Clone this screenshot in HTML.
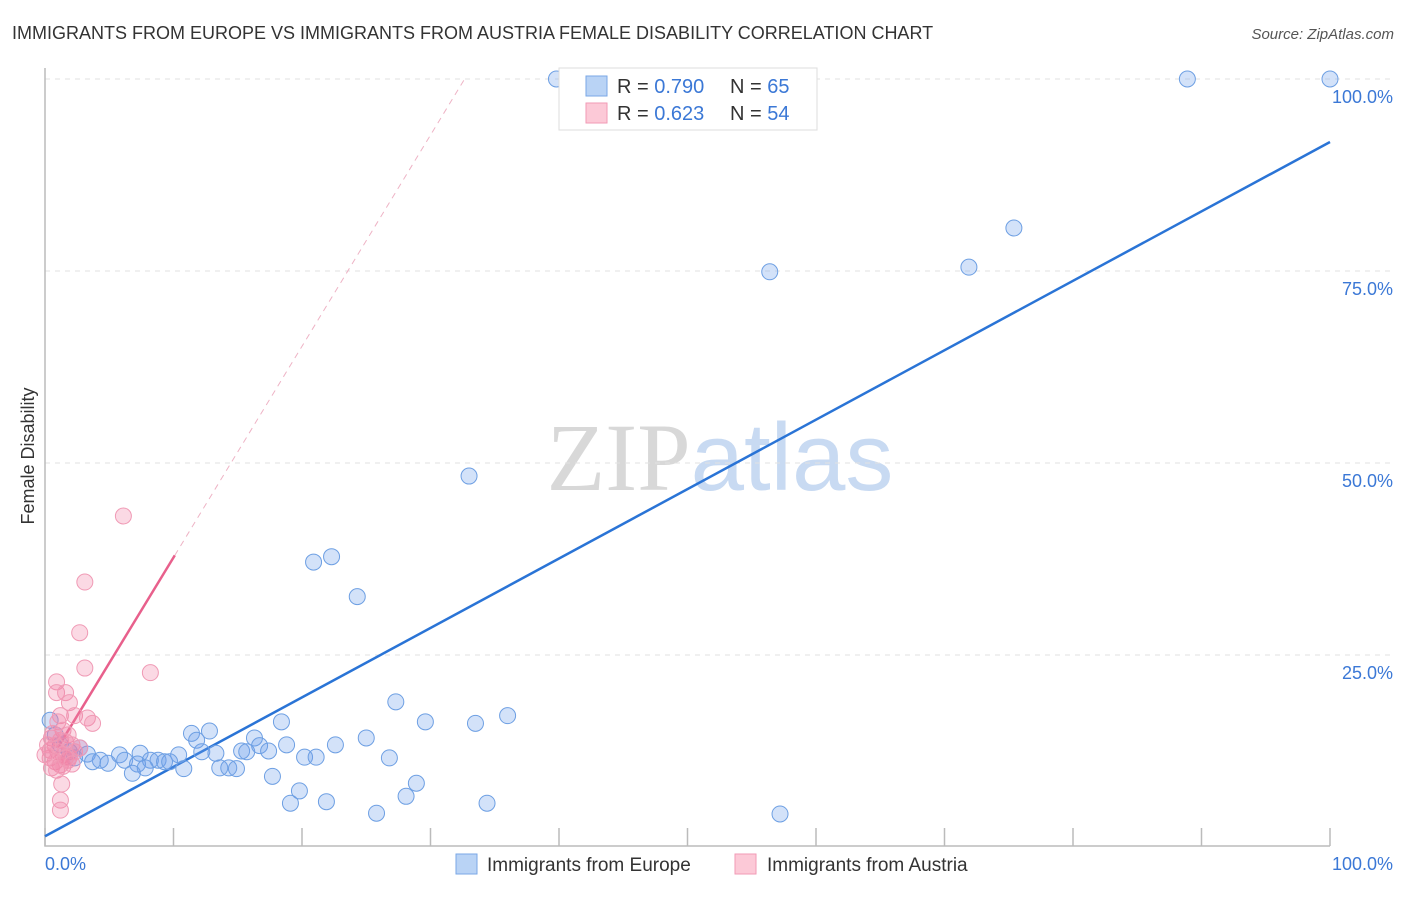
<!DOCTYPE html>
<html><head><meta charset="utf-8"><style>
body{margin:0;background:#fff;font-family:"Liberation Sans",sans-serif}
</style></head><body>
<svg id="chart" width="1406" height="892" xmlns="http://www.w3.org/2000/svg" font-family="Liberation Sans, sans-serif">
<text x="12" y="39" font-size="18" fill="#333">IMMIGRANTS FROM EUROPE VS IMMIGRANTS FROM AUSTRIA FEMALE DISABILITY CORRELATION CHART</text>
<text x="1394" y="39" font-size="15" fill="#555" font-style="italic" text-anchor="end">Source: ZipAtlas.com</text>
<text x="720" y="490" font-size="96" text-anchor="middle"><tspan fill="#d8d8d8" font-family="Liberation Serif, serif">ZIP</tspan><tspan fill="#c8daf2">atlas</tspan></text>
<text transform="translate(34,456) rotate(-90)" font-size="18" fill="#333" text-anchor="middle">Female Disability</text>
<g id="grid"></g><g id="axes"></g><g id="lines"></g><g id="pts"></g>
<g>
<rect x="559" y="68" width="258" height="62" fill="#fff" stroke="#ddd"/>
<rect x="586" y="76" width="21" height="20" fill="#b9d3f5" stroke="#7aa7e6"/>
<rect x="586" y="103" width="21" height="20" fill="#fcc9d7" stroke="#f29ab6"/>
<text x="617" y="93" font-size="20" fill="#333">R = <tspan fill="#3b78d6">0.790</tspan></text>
<text x="730" y="93" font-size="20" fill="#333">N = <tspan fill="#3b78d6">65</tspan></text>
<text x="617" y="120" font-size="20" fill="#333">R = <tspan fill="#3b78d6"> 0.623</tspan></text>
<text x="730" y="120" font-size="20" fill="#333">N = <tspan fill="#3b78d6">54</tspan></text>
</g>
<g>
<rect x="456" y="854" width="21" height="20" fill="#b9d3f5" stroke="#7aa7e6"/>
<text x="487" y="871" font-size="19" fill="#333">Immigrants from Europe</text>
<rect x="735" y="854" width="21" height="20" fill="#fcc9d7" stroke="#f29ab6"/>
<text x="767" y="871" font-size="19" fill="#333">Immigrants from Austria</text>
</g>
</svg>
<script>
const yTicks=[25,50,75,100];
const yTickLabels=["25.0%","50.0%","75.0%","100.0%"];
const xTicks=[0,10,20,30,40,50,60,70,80,90,100];
const blueX=[39.8,88.9,100,75.4,56.4,71.9,33.0,20.9,22.3,24.3,27.3,36.0,33.5,29.6,18.4,12.8,11.4,11.8,16.3,25.0,22.6,18.8,16.7,15.3,17.4,15.7,13.3,12.2,10.4,20.2,21.1,26.8,7.4,5.8,3.3,4.3,3.7,4.9,6.2,8.2,8.8,9.3,9.7,7.2,7.8,6.8,10.8,13.6,14.3,14.9,17.7,19.8,19.1,21.9,25.8,28.1,28.9,34.4,57.2,0.4,0.8,1.2,1.9,2.3,2.7];
const blueY=[100,100,100,80.6,74.9,75.5,48.3,37.1,37.8,32.6,18.9,17.1,16.1,16.3,16.3,15.1,14.8,13.9,14.2,14.2,13.3,13.3,13.2,12.5,12.5,12.4,12.2,12.4,12.0,11.7,11.7,11.6,12.2,12.0,12.1,11.3,11.1,10.9,11.3,11.3,11.3,11.1,11.1,10.8,10.3,9.6,10.2,10.3,10.3,10.2,9.2,7.3,5.7,5.9,4.4,6.6,8.3,5.7,4.3,16.5,14.6,13.3,12.4,11.6,12.9];
const pinkX=[6.1,3.1,2.7,3.1,8.2,0.9,0.9,1.6,1.9,1.2,2.3,3.3,3.7,1.0,1.4,1.8,0.5,1.2,1.6,2.1,0.8,0.4,1.0,1.4,1.9,0.4,0.8,1.2,0.5,0.9,1.4,1.8,2.3,2.7,0.2,0.6,1.3,1.2,1.2,1.6,2.1,0.0];
const pinkY=[43.1,34.5,27.9,23.3,22.7,21.5,20.1,20.1,18.8,17.1,17.1,16.8,16.1,16.3,15.2,14.6,14.2,13.9,13.7,13.3,13.2,12.6,12.4,12.0,11.7,11.6,11.1,10.7,10.3,10.0,10.5,11.3,12.4,12.9,13.3,14.8,8.2,6.1,4.8,11.6,10.8,12.0];
const blueFit=[1.4,0.904];
const pinkFit=[10.2,2.75];
const X=v=>45+v*12.85, Y=v=>847-v*7.68;
const NS="http://www.w3.org/2000/svg";
function mk(parent,tag,attrs){const e=document.createElementNS(NS,tag);for(const k in attrs)e.setAttribute(k,attrs[k]);document.getElementById(parent).appendChild(e);return e;}
yTicks.forEach((t,i)=>{
 const g=mk('grid','line',{x1:45,x2:1395,y1:Y(t),y2:Y(t),stroke:'#e2e2e2','stroke-dasharray':'5,5'});
 
 
 const l=mk('grid','text',{x:1393,y:Y(t)+24,'font-size':18,fill:'#3b78d6','text-anchor':'end'});
 l.textContent=yTickLabels[i];
 
 
});
const ax=mk('axes','path',{d:'M45 68 V846 H1330',stroke:'#bbb',fill:'none','stroke-width':1.5});


xTicks.forEach(t=>{
 const k=mk('axes','line',{x1:X(t),x2:X(t),y1:828,y2:846,stroke:'#bbb','stroke-width':1.5});
 
 
});
const xl0=mk('axes','text',{x:45,y:870,'font-size':18,fill:'#3b78d6'});xl0.textContent='0.0%';


const xl1=mk('axes','text',{x:1393,y:870,'font-size':18,fill:'#3b78d6','text-anchor':'end'});xl1.textContent='100.0%';


const bl=mk('lines','line',{x1:X(0),y1:Y(blueFit[0]),x2:X(100),y2:Y(blueFit[0]+blueFit[1]*100),stroke:'#2a74d6','stroke-width':2.5});


const xEnd=(100-pinkFit[0])/pinkFit[1];
const pd=mk('lines','line',{x1:X(10.1),y1:Y(pinkFit[0]+pinkFit[1]*10.1),x2:X(xEnd),y2:Y(100),stroke:'#eeb3c5','stroke-width':1,'stroke-dasharray':'6,5'});


const ps=mk('lines','line',{x1:X(1),y1:Y(pinkFit[0]+pinkFit[1]),x2:X(10.1),y2:Y(pinkFit[0]+pinkFit[1]*10.1),stroke:'#e8608c','stroke-width':2.5});


blueX.forEach((x,i)=>{
 const c=mk('pts','circle',{cx:X(x),cy:Y(blueY[i]),r:8,fill:'rgba(110,160,235,0.3)',stroke:'#6d9fe3','stroke-width':1});
 
 
});
pinkX.forEach((x,i)=>{
 const c=mk('pts','circle',{cx:X(x),cy:Y(pinkY[i]),r:8,fill:'rgba(242,130,165,0.3)',stroke:'#f09ab5','stroke-width':1});
 
 
});
</script>
</body></html>
